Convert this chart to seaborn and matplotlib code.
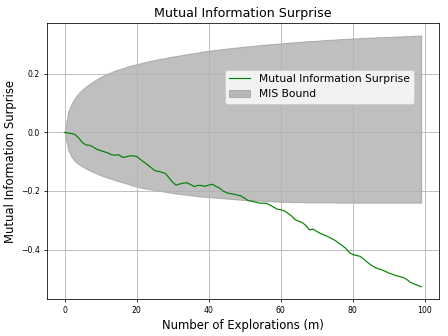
import matplotlib
matplotlib.use("Agg")
import matplotlib.pyplot as plt
import seaborn as sns
import numpy as np
import pandas as pd

explorations = list(range(100))

mis_values = [
    0.000, -0.002, -0.004, -0.008, -0.020, -0.035, -0.043, -0.044, -0.050, -0.058,
    -0.062, -0.066, -0.070, -0.076, -0.078, -0.076, -0.085, -0.084, -0.080, -0.080,
    -0.082, -0.092, -0.101, -0.110, -0.120, -0.130, -0.133, -0.136, -0.140, -0.155,
    -0.170, -0.180, -0.176, -0.173, -0.172, -0.178, -0.185, -0.181, -0.181, -0.184,
    -0.180, -0.177, -0.184, -0.190, -0.200, -0.206, -0.209, -0.211, -0.214, -0.217,
    -0.225, -0.233, -0.235, -0.238, -0.241, -0.242, -0.242, -0.248, -0.255, -0.262,
    -0.264, -0.268, -0.276, -0.285, -0.298, -0.303, -0.308, -0.318, -0.333, -0.330,
    -0.338, -0.345, -0.350, -0.355, -0.362, -0.368, -0.377, -0.386, -0.395, -0.410,
    -0.417, -0.420, -0.423, -0.432, -0.443, -0.452, -0.460, -0.465, -0.469, -0.474,
    -0.480, -0.484, -0.489, -0.492, -0.495, -0.502, -0.512, -0.517, -0.522, -0.527,
]

bound_upper = [
    0.000, 0.070, 0.100, 0.120, 0.135, 0.147, 0.157, 0.166, 0.174, 0.182,
    0.189, 0.195, 0.201, 0.206, 0.211, 0.215, 0.219, 0.223, 0.227, 0.230,
    0.233, 0.236, 0.239, 0.242, 0.245, 0.247, 0.250, 0.252, 0.254, 0.257,
    0.259, 0.261, 0.263, 0.265, 0.267, 0.269, 0.271, 0.273, 0.275, 0.277,
    0.279, 0.280, 0.282, 0.283, 0.285, 0.286, 0.288, 0.289, 0.290, 0.292,
    0.293, 0.294, 0.295, 0.296, 0.298, 0.299, 0.300, 0.301, 0.302, 0.303,
    0.304, 0.305, 0.306, 0.307, 0.308, 0.309, 0.310, 0.311, 0.312, 0.312,
    0.313, 0.314, 0.315, 0.316, 0.316, 0.317, 0.318, 0.319, 0.319, 0.320,
    0.321, 0.321, 0.322, 0.323, 0.323, 0.324, 0.324, 0.325, 0.325, 0.326,
    0.326, 0.327, 0.327, 0.328, 0.328, 0.329, 0.329, 0.330, 0.330, 0.331,
]

bound_lower = [
    0.000, -0.060, -0.085, -0.100, -0.109, -0.117, -0.124, -0.130, -0.136, -0.141,
    -0.146, -0.151, -0.155, -0.159, -0.163, -0.167, -0.170, -0.174, -0.178, -0.182,
    -0.185, -0.188, -0.191, -0.193, -0.195, -0.197, -0.199, -0.201, -0.203, -0.205,
    -0.207, -0.209, -0.210, -0.212, -0.213, -0.215, -0.216, -0.218, -0.219, -0.220,
    -0.221, -0.222, -0.223, -0.224, -0.225, -0.226, -0.227, -0.228, -0.229, -0.230,
    -0.231, -0.231, -0.232, -0.233, -0.233, -0.234, -0.235, -0.235, -0.236, -0.236,
    -0.237, -0.237, -0.237, -0.238, -0.238, -0.238, -0.238, -0.239, -0.239, -0.239,
    -0.239, -0.239, -0.239, -0.239, -0.239, -0.239, -0.240, -0.240, -0.240, -0.240,
    -0.240, -0.240, -0.240, -0.240, -0.240, -0.240, -0.240, -0.240, -0.240, -0.240,
    -0.240, -0.240, -0.240, -0.240, -0.240, -0.240, -0.240, -0.240, -0.240, -0.240,
]

df = pd.DataFrame({"m": explorations, "mis": mis_values,
                   "lo": bound_lower, "hi": bound_upper})

fig, ax = plt.subplots(figsize=(6.414, 4.8), dpi=70)
sns.lineplot(data=df, x="m", y="mis", color="green", linewidth=1.2,
             label="Mutual Information Surprise", ax=ax)
ax.fill_between(df["m"], df["lo"], df["hi"], color="gray", alpha=0.5,
                label="MIS Bound")
ax.grid(True)
ax.set_title("Mutual Information Surprise", fontsize=13)
ax.set_xlabel("Number of Explorations (m)", fontsize=12)
ax.set_ylabel("Mutual Information Surprise", fontsize=12)
ax.tick_params(labelsize=8)
ax.set_yticks([-0.4, -0.2, 0.0, 0.2])
ax.legend(loc="upper right", bbox_to_anchor=(0.95, 0.85), fontsize=11)
fig.subplots_adjust(left=0.104, right=0.978, top=0.932, bottom=0.109)
fig.savefig("out.png", dpi=70)
